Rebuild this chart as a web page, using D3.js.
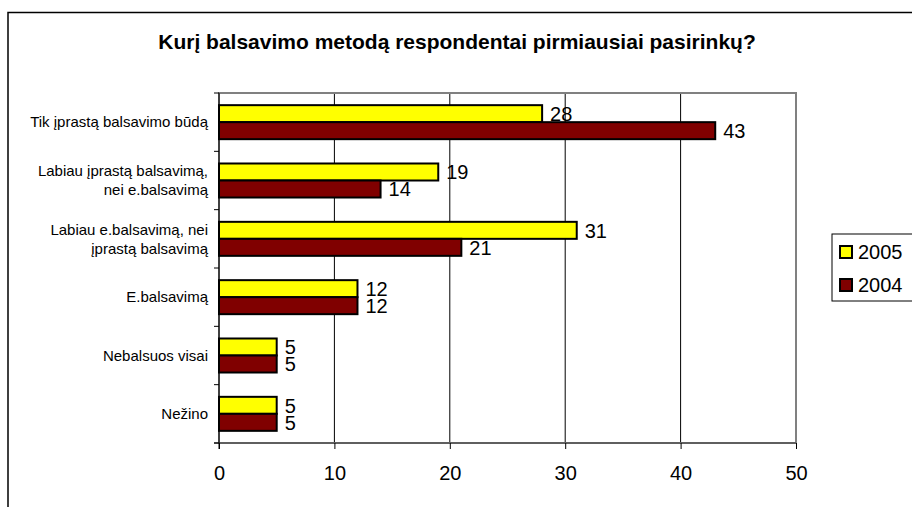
<!DOCTYPE html>
<html>
<head>
<meta charset="utf-8">
<script src="https://cdn.jsdelivr.net/npm/d3@7"></script>
<style>
  body { margin: 0; background: #fff; }
  text { font-family: "Liberation Sans", Arial, sans-serif; }
</style>
</head>
<body>
<svg id="chart"></svg>
<script>
// data
const categories = [
    ["Tik įprastą balsavimo būdą"],
    ["Labiau įprastą balsavimą,", "nei e.balsavimą"],
    ["Labiau e.balsavimą, nei", "įprastą balsavimą"],
    ["E.balsavimą"],
    ["Nebalsuos visai"],
    ["Nežino"]
];
const values2005 = [28, 19, 31, 12, 5, 5];
const values2004 = [43, 14, 21, 12, 5, 5];
const seriesNames = ["2005", "2004"];
const seriesColors = ["#ffff00", "#800000"];
const xTicks = [0, 10, 20, 30, 40, 50];
const title = "Kurį balsavimo metodą respondentai pirmiausiai pasirinkų?";

class HBarchart {
    margin = {
        top: 93, right: 116, bottom: 64, left: 219
    }

    constructor(svg, width = 912, height = 507) {
        this.svg = svg;
        this.width = width;
        this.height = height;
    }

    initialize() {
        this.svg = d3.select(this.svg)
            .attr("width", this.width)
            .attr("height", this.height);

        this.innerW = this.width - this.margin.left - this.margin.right;
        this.innerH = this.height - this.margin.top - this.margin.bottom;

        // outer chart frame (runs off the right and bottom)
        this.svg.append("rect")
            .attr("x", 8).attr("y", 12.5)
            .attr("width", 1000).attr("height", 1000)
            .attr("fill", "none")
            .attr("stroke", "#000")
            .attr("stroke-width", 1.5);

        this.container = this.svg.append("g")
            .attr("transform", `translate(${this.margin.left}, ${this.margin.top})`);

        this.xScale = d3.scaleLinear().domain([0, 50]).range([0, this.innerW]);
        this.yScale = d3.scaleBand()
            .domain(d3.range(categories.length))
            .range([0, this.innerH])
            .paddingInner(0.417)
            .paddingOuter(0.2085);
        this.subScale = d3.scaleBand()
            .domain(seriesNames)
            .range([0, this.yScale.bandwidth()]);
    }

    update() {
        const g = this.container;
        const x = this.xScale, y = this.yScale, sub = this.subScale;
        const step = y.step();

        // gridlines
        g.append("g")
            .selectAll("line")
            .data(xTicks.slice(1, -1))
            .join("line")
            .attr("x1", d => x(d)).attr("x2", d => x(d))
            .attr("y1", 0).attr("y2", this.innerH)
            .attr("stroke", "#000")
            .attr("stroke-width", 1);

        // plot area border
        g.append("rect")
            .attr("width", this.innerW).attr("height", this.innerH)
            .attr("fill", "none")
            .attr("stroke", "#808080")
            .attr("stroke-width", 2);

        // x axis
        const xAxis = g.append("g")
            .attr("transform", `translate(0, ${this.innerH})`)
            .call(d3.axisBottom(x).tickValues(xTicks).tickSize(6).tickPadding(17));
        xAxis.select(".domain").attr("stroke", "#555").attr("stroke-width", 1.5)
            .attr("d", `M-5,0H${this.innerW}`);
        xAxis.selectAll(".tick line").attr("stroke", "#000");
        xAxis.selectAll("text")
            .attr("font-size", "20px")
            .attr("fill", "#000");

        // y axis with ticks at the band edges
        g.append("line")
            .attr("x1", 0).attr("x2", 0)
            .attr("y1", 0).attr("y2", this.innerH + 6)
            .attr("stroke", "#000");
        g.append("g")
            .selectAll("line")
            .data(d3.range(categories.length + 1))
            .join("line")
            .attr("x1", -5).attr("x2", 0)
            .attr("y1", i => i * step).attr("y2", i => i * step)
            .attr("stroke", "#000");

        // category labels
        g.append("g")
            .selectAll("text")
            .data(categories)
            .join("text")
            .attr("text-anchor", "end")
            .attr("font-size", "15px")
            .attr("fill", "#000")
            .attr("transform", (d, i) => `translate(-11, ${y(i) + y.bandwidth() / 2})`)
            .each(function (lines) {
                const t = d3.select(this);
                lines.forEach((line, j) => {
                    t.append("tspan")
                        .attr("x", 0)
                        .attr("y", (j - (lines.length - 1) / 2) * 19)
                        .attr("dy", "0.35em")
                        .text(line);
                });
            });

        // bars
        const series = [values2005, values2004];
        series.forEach((vals, s) => {
            const name = seriesNames[s];
            const sg = g.append("g");
            sg.selectAll("rect")
                .data(vals)
                .join("rect")
                .attr("x", 0)
                .attr("y", (d, i) => y(i) + sub(name))
                .attr("width", d => x(d))
                .attr("height", sub.bandwidth())
                .attr("fill", seriesColors[s])
                .attr("stroke", "#000")
                .attr("stroke-width", 2);
            sg.selectAll("text")
                .data(vals)
                .join("text")
                .attr("x", d => x(d) + 8)
                .attr("y", (d, i) => y(i) + sub(name) + sub.bandwidth() / 2)
                .attr("dy", "0.36em")
                .attr("font-size", "20px")
                .attr("fill", "#000")
                .text(d => d);
        });

        this.addLegend();
        this.addTitle(title);
    }

    addLegend() {
        const lg = this.svg.append("g").attr("transform", "translate(832, 234)");
        lg.append("rect")
            .attr("width", 100).attr("height", 67)
            .attr("fill", "#fff")
            .attr("stroke", "#000")
            .attr("stroke-width", 1);
        const items = lg.selectAll("g")
            .data(seriesNames)
            .join("g")
            .attr("transform", (d, i) => `translate(8, ${18 + i * 33})`);
        items.append("rect")
            .attr("x", 0).attr("y", -6)
            .attr("width", 12).attr("height", 12)
            .attr("fill", (d, i) => seriesColors[i])
            .attr("stroke", "#000")
            .attr("stroke-width", 2);
        items.append("text")
            .attr("x", 18)
            .attr("dy", "0.36em")
            .attr("font-size", "20px")
            .attr("fill", "#000")
            .text(d => d);
    }

    addTitle(titleText) {
        this.svg
            .append("text")
            .attr("class", "title")
            .attr("x", 457)
            .attr("y", 42)
            .attr("dy", "0.35em")
            .style("text-anchor", "middle")
            .style("font-size", "21px")
            .style("font-weight", "bold")
            .text(titleText);
    }
}

const chart = new HBarchart(document.getElementById("chart"));
chart.initialize();
chart.update();
</script>
</body>
</html>
